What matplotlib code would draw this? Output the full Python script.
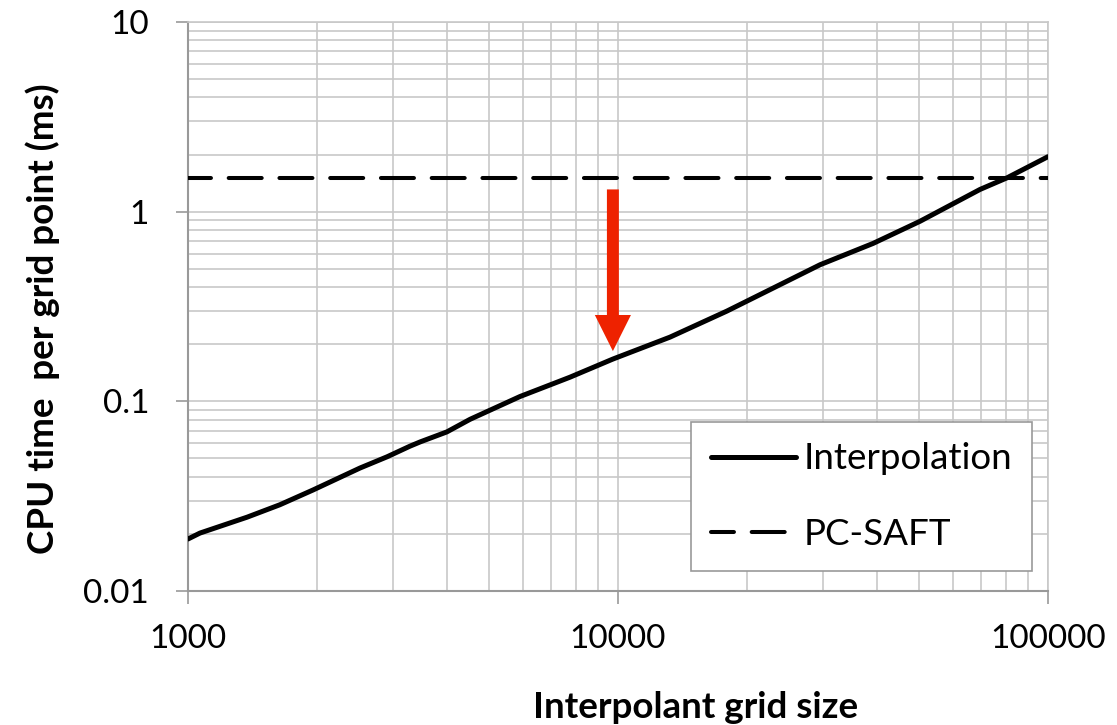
import matplotlib
matplotlib.use("Agg")
import matplotlib.pyplot as plt
from matplotlib.ticker import LogLocator, NullFormatter, FixedLocator, FixedFormatter

# Data
grid_size = [1000, 1066, 1372, 1636, 1954, 2512, 2904, 3281, 3467, 4000, 4529,
             5916, 7730, 9726, 13210, 17910, 29510, 39190, 50400, 69500, 80400, 100000]
cpu_interp = [0.0188, 0.0202, 0.0245, 0.0285, 0.0341, 0.0445, 0.051, 0.058, 0.0611,
              0.069, 0.0804, 0.106, 0.134, 0.167, 0.218, 0.299, 0.525, 0.68, 0.89,
              1.31, 1.51, 1.95]
pcsaft_value = 1.5
xticks = [1000, 10000, 100000]
xticklabels = ["1000", "10000", "100000"]
yticks = [0.01, 0.1, 1, 10]
yticklabels = ["0.01", "0.1", "1", "10"]
arrow_x = 9730
arrow_y_start = 1.31
arrow_y_end = 0.184

plt.rcParams['font.family'] = ['Lato', 'DejaVu Sans']

fig = plt.figure(figsize=(11.17, 7.25), dpi=100)
ax = fig.add_axes([188/1117, 1-591/725, (1048-188)/1117, (591-22)/725])

ax.set_xscale('log')
ax.set_yscale('log')
ax.set_xlim(1000, 100000)
ax.set_ylim(0.01, 10)

grid_c = '#c8c8c8'
ax.grid(True, which='both', color=grid_c, lw=1.2, zorder=0)
ax.set_axisbelow(True)
ax.xaxis.set_minor_locator(LogLocator(base=10, subs=range(2, 10)))
ax.yaxis.set_minor_locator(LogLocator(base=10, subs=range(2, 10)))
ax.xaxis.set_minor_formatter(NullFormatter())
ax.yaxis.set_minor_formatter(NullFormatter())
ax.xaxis.set_major_locator(FixedLocator(xticks))
ax.xaxis.set_major_formatter(FixedFormatter(xticklabels))
ax.yaxis.set_major_locator(FixedLocator(yticks))
ax.yaxis.set_major_formatter(FixedFormatter(yticklabels))
ax.tick_params(which='minor', length=0)
ax.tick_params(which='major', length=9, width=1.2, color='#999999',
               labelsize=24, direction='out')
ax.tick_params(axis='x', pad=15)
ax.tick_params(axis='y', pad=19)

for s in ['top', 'right']:
    ax.spines[s].set_color(grid_c)
    ax.spines[s].set_linewidth(1.2)
for s in ['left', 'bottom']:
    ax.spines[s].set_color('#999999')
    ax.spines[s].set_linewidth(1.5)

ax.plot(grid_size, cpu_interp, color='black', lw=3.6, solid_capstyle='round',
        solid_joinstyle='round', label='Interpolation', zorder=3)
ax.axhline(pcsaft_value, color='black', lw=2.9, linestyle=(2.5, (8.2, 4.4)),
           dash_capstyle='round', label='PC-SAFT', zorder=3)

ax.annotate('', xy=(arrow_x, arrow_y_end), xytext=(arrow_x, arrow_y_start),
            arrowprops=dict(arrowstyle='simple,head_length=26,head_width=26,tail_width=8.6',
                            mutation_scale=1, color='#ee2200', shrinkA=0, shrinkB=0,
                            lw=0), zorder=4)

leg = ax.legend(loc='lower right', bbox_to_anchor=(1032/1117, 1-571/725),
                bbox_transform=fig.transFigure, fontsize=26.5, frameon=True,
                fancybox=False, edgecolor='#999999', framealpha=1,
                handlelength=2.3, handletextpad=0.2, labelspacing=1.15,
                borderpad=0.55, borderaxespad=0)
leg.get_frame().set_linewidth(1.2)
for h in leg.get_lines():
    h.set_dash_capstyle('round')
    h.set_solid_capstyle('round')

ax.set_xlabel('Interpolant grid size', fontsize=26.5, fontweight='bold')
ax.set_ylabel('CPU time  per grid point (ms)', fontsize=26.5, fontweight='bold')
ax.xaxis.set_label_coords((696-188)/860, -0.175)
ax.yaxis.set_label_coords(-0.149, (591-319)/569)

fig.savefig('out.png', dpi=100)
